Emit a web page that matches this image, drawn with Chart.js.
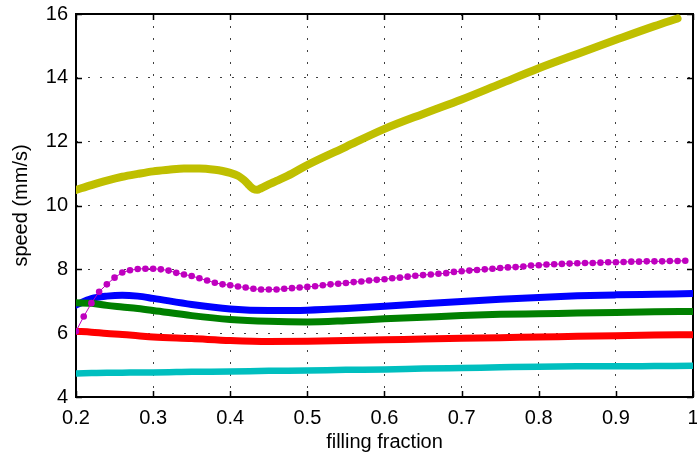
<!DOCTYPE html>
<html>
<head>
<meta charset="utf-8">
<script src="https://cdn.jsdelivr.net/npm/chart.js@4/dist/chart.umd.min.js"></script>
<style>
  html, body { margin: 0; padding: 0; background: #fff; }
  #wrap { width: 697px; height: 459px; position: relative; }
</style>
</head>
<body>
<div id="wrap"><canvas id="speedChart"></canvas></div>
<script>
// Sample positions (filling fraction) for the smooth curves
const fillX = [0.20, 0.22, 0.24, 0.26, 0.28, 0.30, 0.35, 0.40, 0.45, 0.50, 0.55, 0.60, 0.65, 0.70, 0.75, 0.80, 0.85, 0.90, 0.95, 1.00];

// Speeds in mm/s
const blueSpeed  = [6.88, 7.08, 7.16, 7.19, 7.16, 7.09, 6.90, 6.76, 6.71, 6.72, 6.77, 6.84, 6.92, 6.99, 7.06, 7.12, 7.17, 7.20, 7.22, 7.24];
const greenSpeed = [6.95, 6.94, 6.87, 6.82, 6.77, 6.71, 6.55, 6.43, 6.37, 6.35, 6.39, 6.45, 6.50, 6.55, 6.59, 6.61, 6.63, 6.65, 6.67, 6.68];
const redSpeed   = [6.06, 6.03, 5.99, 5.96, 5.92, 5.88, 5.83, 5.77, 5.74, 5.75, 5.77, 5.79, 5.82, 5.84, 5.86, 5.88, 5.90, 5.92, 5.94, 5.95];
const cyanSpeed  = [4.74, 4.75, 4.76, 4.76, 4.77, 4.77, 4.79, 4.80, 4.82, 4.83, 4.85, 4.86, 4.89, 4.91, 4.93, 4.95, 4.96, 4.96, 4.97, 4.98];

// Yellow curve has a dip near 0.43, so it gets its own positions
const yellowX = [0.20, 0.22, 0.24, 0.26, 0.28, 0.30, 0.32, 0.34, 0.36, 0.38, 0.39, 0.40, 0.41, 0.415, 0.42, 0.425, 0.43, 0.435, 0.44, 0.45, 0.46, 0.48, 0.50, 0.55, 0.60, 0.65, 0.70, 0.75, 0.80, 0.85, 0.90, 0.95, 0.98];
const yellowSpeed = [10.49, 10.64, 10.78, 10.90, 10.99, 11.07, 11.12, 11.16, 11.16, 11.12, 11.08, 11.02, 10.93, 10.85, 10.75, 10.62, 10.52, 10.49, 10.54, 10.66, 10.77, 11.00, 11.27, 11.84, 12.40, 12.87, 13.32, 13.81, 14.30, 14.75, 15.19, 15.62, 15.86];

// Magenta series is sampled every 0.01 and drawn with markers
const magentaX = [];
for (let i = 20; i <= 99; i++) magentaX.push(i / 100);
const magentaSpeed = [
  6.06, 6.52, 6.94, 7.30, 7.53, 7.74, 7.90, 7.97, 8.01, 8.02,
  8.02, 8.00, 7.96, 7.89, 7.84, 7.79, 7.72, 7.65, 7.58, 7.53,
  7.50, 7.46, 7.43, 7.39, 7.37, 7.37, 7.37, 7.39, 7.41, 7.43,
  7.45, 7.47, 7.50, 7.53, 7.55, 7.57, 7.60, 7.62, 7.65, 7.67,
  7.69, 7.72, 7.74, 7.77, 7.80, 7.82, 7.84, 7.86, 7.88, 7.92,
  7.94, 7.96, 7.98, 8.00, 8.02, 8.04, 8.06, 8.07, 8.09, 8.12,
  8.13, 8.15, 8.16, 8.17, 8.18, 8.19, 8.20, 8.20, 8.21, 8.22,
  8.22, 8.23, 8.24, 8.24, 8.25, 8.25, 8.25, 8.26, 8.26, 8.27
];

const xTicks = [0.2, 0.3, 0.4, 0.5, 0.6, 0.7, 0.8, 0.9, 1];
const yTicks = [4, 6, 8, 10, 12, 14, 16];

const FONT = 'Liberation Sans, Arial, Helvetica, sans-serif';

function pts(xs, ys) {
    return xs.map((x, i) => ({ x: x, y: ys[i] }));
}

function thick(label, xs, ys, color, width) {
    return {
        label: label,
        data: pts(xs, ys),
        borderColor: color,
        backgroundColor: color,
        borderWidth: width,
        borderCapStyle: 'round',
        borderJoinStyle: 'round',
        pointRadius: 0,
        cubicInterpolationMode: 'monotone',
        fill: false
    };
}

// Box around the plot with inward tick marks on all four sides
const boxFrame = {
    id: 'boxFrame',
    beforeDatasetsDraw(chart) {
        const { ctx, chartArea: a, scales: { x, y } } = chart;
        const len = 6;
        ctx.save();
        ctx.strokeStyle = '#000';
        ctx.lineWidth = 1.5;
        ctx.beginPath();
        xTicks.forEach(v => {
            const px = Math.round(x.getPixelForValue(v)) + 0.5;
            ctx.moveTo(px, a.bottom); ctx.lineTo(px, a.bottom - len);
            ctx.moveTo(px, a.top); ctx.lineTo(px, a.top + len);
        });
        yTicks.forEach(v => {
            const py = Math.round(y.getPixelForValue(v)) + 0.5;
            ctx.moveTo(a.left, py); ctx.lineTo(a.left + len, py);
            ctx.moveTo(a.right, py); ctx.lineTo(a.right - len, py);
        });
        ctx.stroke();
        ctx.lineWidth = 2;
        ctx.strokeRect(a.left, a.top, a.right - a.left, a.bottom - a.top);
        ctx.restore();
    }
};

new Chart(document.getElementById('speedChart'), {
    type: 'line',
    data: {
        datasets: [
            {
                label: 'magenta',
                data: pts(magentaX, magentaSpeed),
                borderColor: '#bf00bf',
                backgroundColor: '#bf00bf',
                borderWidth: 1,
                pointRadius: 3.3,
                pointBorderWidth: 0,
                pointBackgroundColor: '#bf00bf',
                tension: 0,
                fill: false
            },
            thick('yellow', yellowX, yellowSpeed, '#bfbf00', 8),
            thick('cyan', fillX, cyanSpeed, '#00bfbf', 6.5),
            thick('red', fillX, redSpeed, '#ff0000', 7),
            thick('green', fillX, greenSpeed, '#008000', 7),
            thick('blue', fillX, blueSpeed, '#0000ff', 7)
        ]
    },
    options: {
        responsive: true,
        maintainAspectRatio: false,
        animation: false,
        layout: { padding: { top: 14, right: 2, left: 0, bottom: 0 } },
        plugins: {
            legend: { display: false },
            tooltip: { enabled: false }
        },
        scales: {
            x: {
                type: 'linear',
                min: 0.2,
                max: 1,
                afterBuildTicks: s => { s.ticks = xTicks.map(v => ({ value: v })); },
                afterFit: s => { s.height = 62; s.paddingLeft = 0; s.paddingRight = 0; },
                grid: { color: 'rgba(0,0,0,0.75)', lineWidth: 1, drawTicks: false },
                border: { display: false, dash: [2, 10] },
                ticks: {
                    color: '#000',
                    padding: 9,
                    maxRotation: 0,
                    font: { family: FONT, size: 20 },
                    callback: v => String(+v.toFixed(1))
                },
                title: {
                    display: true,
                    text: 'filling fraction',
                    color: '#000',
                    font: { family: FONT, size: 20 },
                    padding: { top: 0, bottom: 5 }
                }
            },
            y: {
                min: 4,
                max: 16,
                afterBuildTicks: s => { s.ticks = yTicks.map(v => ({ value: v })); },
                afterFit: s => { s.width = 76; s.paddingTop = 0; s.paddingBottom = 0; },
                grid: { color: 'rgba(0,0,0,0.75)', lineWidth: 1, drawTicks: false },
                border: { display: false, dash: [2, 10] },
                ticks: {
                    color: '#000',
                    padding: 8,
                    font: { family: FONT, size: 20 }
                },
                title: {
                    display: true,
                    text: 'speed (mm/s)',
                    color: '#000',
                    font: { family: FONT, size: 20 },
                    padding: { top: 9, bottom: 0 }
                }
            }
        }
    },
    plugins: [boxFrame]
});
</script>
</body>
</html>
